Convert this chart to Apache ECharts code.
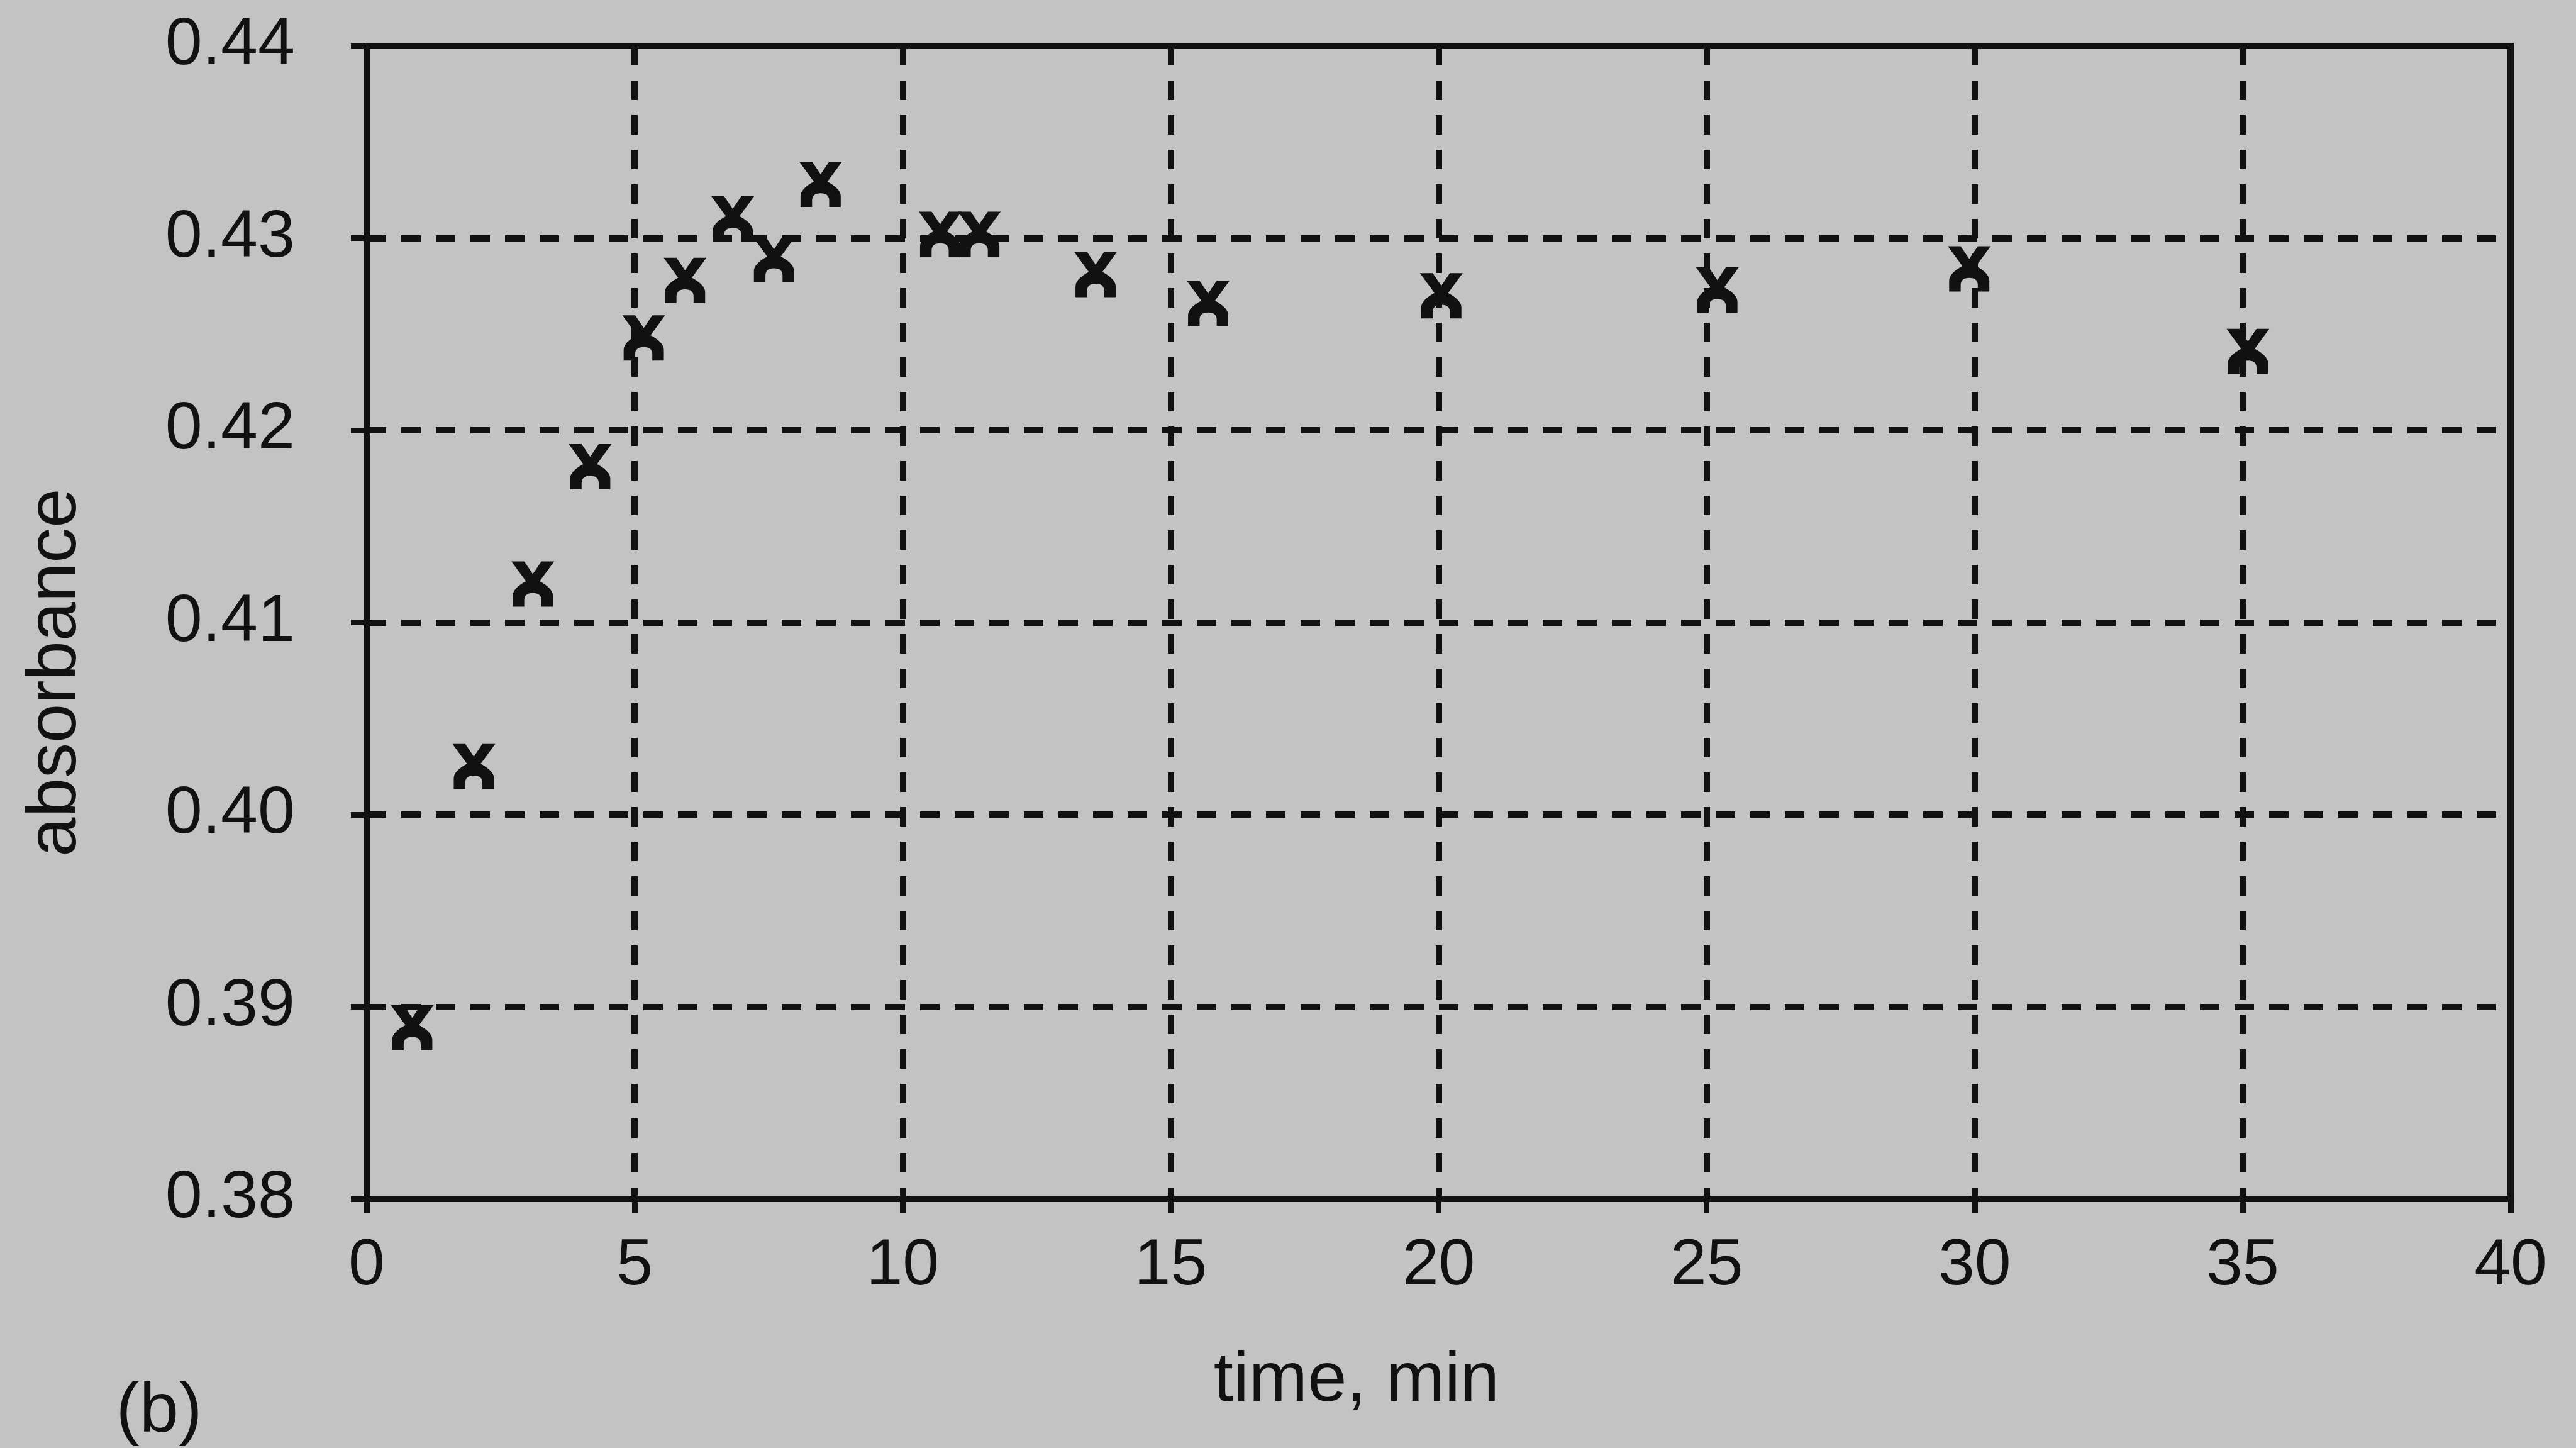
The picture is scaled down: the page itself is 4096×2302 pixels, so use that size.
<!DOCTYPE html>
<html>
<head>
<meta charset="utf-8">
<title>absorbance vs time</title>
<script src="https://cdn.jsdelivr.net/npm/echarts@6/dist/echarts.min.js"></script>
<style>
  html, body { margin: 0; padding: 0; background: #c3c3c3; }
  #chart { width: 4096px; height: 2302px; }
</style>
</head>
<body>
<div id="chart"></div>
<script>
// Measured absorbance over time
const timeMin = [0.85, 2.0, 3.1, 4.17, 5.17, 5.94, 6.83, 7.6, 8.47, 10.7, 11.43, 13.6, 15.7, 20.05, 25.2, 29.9, 35.1];
const absorbance = [0.3889, 0.4025, 0.4120, 0.4181, 0.4248, 0.4278, 0.4310, 0.4289, 0.4328, 0.4302, 0.4302, 0.4281, 0.4266, 0.4270, 0.4273, 0.4284, 0.4241];

// Axis ranges and tick steps
const xMin = 0, xMax = 40, xStep = 5;
const yMin = 0.38, yMax = 0.44, yStep = 0.01;

const xTitle = 'time, min';
const yTitle = 'absorbance';
const panelTag = '(b)';

const INK = '#111111';
const FONT = '"Liberation Sans", Arial, sans-serif';

// Typewriter-style cross used as the data marker
const crossMark = 'path://M0,0 L30,0 L50,28 L70,0 L100,0 L66,44 Q97,60 97,76 L97,100 L70,100 L70,86 Q70,70 50,70 Q30,70 30,86 L30,100 L3,100 L3,76 Q3,60 34,44 Z';

const points = timeMin.map((t, i) => [t, absorbance[i]]);

const chart = echarts.init(document.getElementById('chart'), null, { renderer: 'canvas' });

const dashed = { color: INK, width: 10, type: [31, 24] };

chart.setOption({
  backgroundColor: '#c3c3c3',
  animation: false,
  grid: {
    left: 583, right: 104, top: 73, bottom: 396,
    show: true, borderColor: INK, borderWidth: 10, backgroundColor: 'transparent'
  },
  xAxis: {
    type: 'value', min: xMin, max: xMax, interval: xStep,
    axisLine: { show: true, lineStyle: { color: INK, width: 10 } },
    axisTick: { show: true, inside: false, length: 22, lineStyle: { color: INK, width: 9 } },
    axisLabel: { show: true, margin: 55, color: INK, fontSize: 104, fontFamily: FONT },
    splitLine: { show: true, lineStyle: dashed }
  },
  yAxis: {
    type: 'value', min: yMin, max: yMax, interval: yStep,
    axisLine: { show: true, lineStyle: { color: INK, width: 10 } },
    axisTick: { show: true, inside: false, length: 25, lineStyle: { color: INK, width: 9 } },
    axisLabel: {
      show: true, margin: 114, color: INK, fontSize: 106, fontFamily: FONT,
      formatter: v => v.toFixed(2)
    },
    splitLine: { show: true, lineStyle: dashed }
  },
  series: [{
    type: 'scatter',
    data: points,
    symbol: crossMark,
    symbolSize: [68, 72],
    itemStyle: { color: INK, opacity: 1 },
    emphasis: { disabled: true },
    z: 5
  }],
  graphic: [
    {
      type: 'text', x: 89, y: 1069, rotation: Math.PI / 2,
      style: { text: yTitle, fill: INK, font: '112px ' + FONT, align: 'center', verticalAlign: 'middle', textAlign: 'center', textVerticalAlign: 'middle' }
    },
    {
      type: 'text', x: 2157, y: 2196,
      style: { text: xTitle, fill: INK, font: '112px ' + FONT, align: 'center', verticalAlign: 'middle', textAlign: 'center', textVerticalAlign: 'middle' }
    },
    {
      type: 'text', x: 253, y: 2245,
      style: { text: panelTag, fill: INK, font: '112px ' + FONT, align: 'center', verticalAlign: 'middle', textAlign: 'center', textVerticalAlign: 'middle' }
    }
  ]
});
</script>
</body>
</html>
